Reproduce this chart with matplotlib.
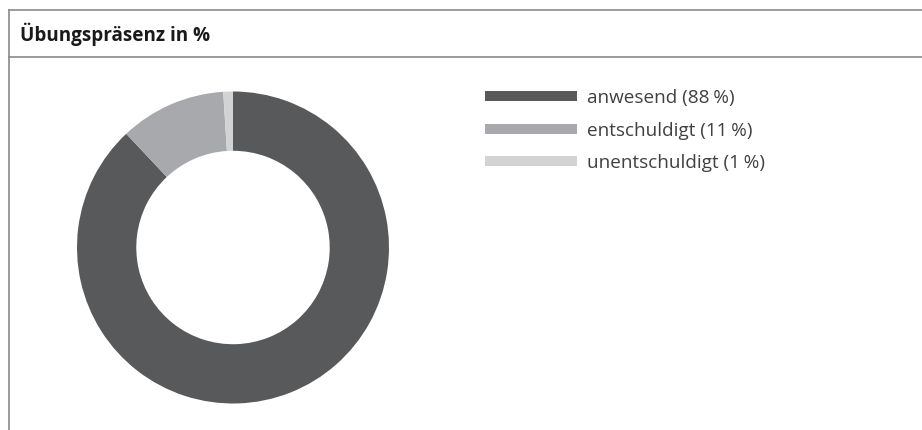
import matplotlib
matplotlib.use("Agg")
import matplotlib.pyplot as plt
from matplotlib.lines import Line2D

title = "Übungspräsenz in %"
categories = ["anwesend", "entschuldigt", "unentschuldigt"]
values = [88, 11, 1]
colors = ["#58595b", "#a7a9ac", "#d1d3d4"]
labels = [f"{c} ({v}\u202f%)" for c, v in zip(categories, values)]

plt.rcParams['font.family'] = ['Open Sans', 'DejaVu Sans']

W, H = 922, 430
fig = plt.figure(figsize=(W / 100, H / 100), dpi=100)

fig.add_artist(Line2D([9 / W, 1], [1 - 9.5 / H] * 2, color="#8a8a8a", lw=1.2, transform=fig.transFigure))
fig.add_artist(Line2D([9 / W, 1], [1 - 57 / H] * 2, color="#8a8a8a", lw=1.2, transform=fig.transFigure))
fig.add_artist(Line2D([9 / W, 9 / W], [0, 1 - 9.5 / H], color="#8a8a8a", lw=1.2, transform=fig.transFigure))

fig.text(20 / W, 1 - 34 / H, title, fontsize=13.6, fontweight="bold", color="#1a1a1a",
         va="center", ha="left")

cx, cy, r = 233, 247.5, 156
ax = fig.add_axes([(cx - r) / W, (H - cy - r) / H, 2 * r / W, 2 * r / H])
wedges, _ = ax.pie(values, colors=colors, startangle=90, counterclock=False,
                   wedgeprops=dict(width=0.38, edgecolor="none", linewidth=0))
ax.set_xlim(-1, 1)
ax.set_ylim(-1, 1)
ax.set_aspect("equal")
ax.axis("off")

fs = 13.6
fpx = fs * 100 / 72
leg = fig.legend(wedges, labels, loc="upper left", bbox_to_anchor=(485 / W, 1 - 89 / H),
                 frameon=False, fontsize=fs, handlelength=92 / fpx, handleheight=8 / fpx,
                 handletextpad=10 / fpx, labelspacing=0.77, borderpad=0, borderaxespad=0)
for t in leg.get_texts():
    t.set_color("#404040")

fig.savefig("out.png", dpi=100)
